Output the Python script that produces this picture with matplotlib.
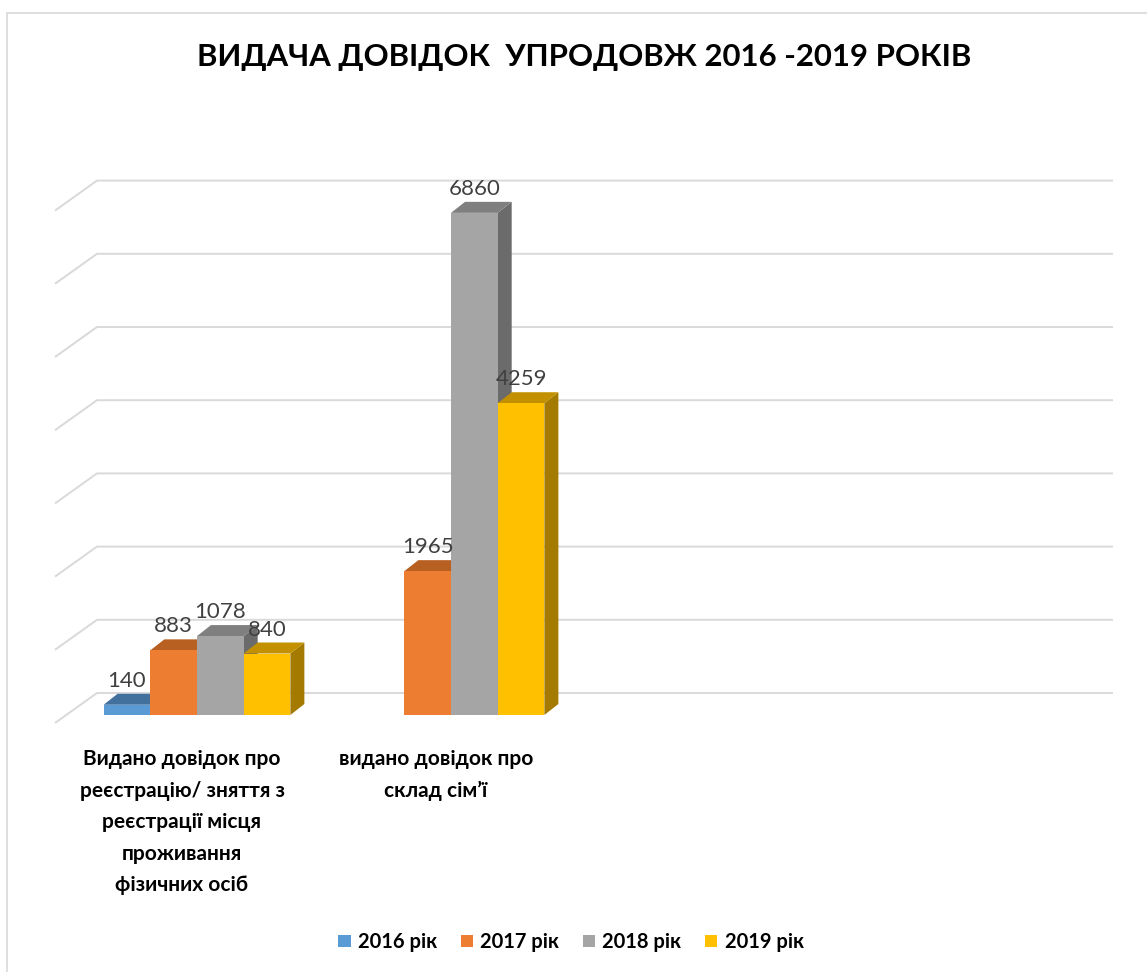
import matplotlib
matplotlib.use("Agg")
import matplotlib.pyplot as plt
from matplotlib.patches import Polygon, Rectangle

plt.rcParams['font.family'] = ['Lato', 'DejaVu Sans']

# ---- дані ----
categories = [
    "Видано довідок про\nреєстрацію/ зняття з\nреєстрації місця\nпроживання\nфізичних осіб",
    "видано довідок про\nсклад сім’ї",
    "",
    "",
]
series = ["2016 рік", "2017 рік", "2018 рік", "2019 рік"]
v2016 = [140, None, None, None]
v2017 = [883, 1965, None, None]
v2018 = [1078, 6860, None, None]
v2019 = [840, 4259, None, None]
values = [v2016, v2017, v2018, v2019]

front_colors = ['#5B9BD5', '#ED7D31', '#A5A5A5', '#FFC000']
top_colors = ['#41719C', '#B85F22', '#7F7F7F', '#C29000']
side_colors = ['#3A6590', '#A4531C', '#6B6B6B', '#A47A00']

title = "ВИДАЧА ДОВІДОК  УПРОДОВЖ 2016 -2019 РОКІВ"

# ---- геометрія (пікселі) ----
W, H = 1147, 972
AX_L, AX_W = 55, 1016
AX_B, AX_H = 723, 512.4
YMAX = 7000
PX = 4 / AX_W          # одиниць x на піксель
PY = YMAX / AX_H       # одиниць y на піксель

fig = plt.figure(figsize=(W / 100, H / 100), dpi=100, facecolor='white')
ax = fig.add_axes([AX_L / W, (H - AX_B) / H, AX_W / W, AX_H / H])
ax.set_xlim(-0.5, 3.5)
ax.set_ylim(0, YMAX)
for s in ax.spines.values():
    s.set_visible(False)
ax.set_yticks([])

# рамка діаграми
fig.patches.append(Rectangle((7 / W, -0.1), 1.2, 1 - 13 / H + 0.1, transform=fig.transFigure,
                             fill=False, edgecolor='#D9D9D9', linewidth=1.2))

# сітка на задній стінці
back_dx, back_dy = 42 * PX, 30 * PY
for g in range(0, YMAX + 1, 1000):
    ax.plot([-0.5, -0.5 + back_dx, 3.5 + back_dx], [g, g + back_dy, g + back_dy],
            color='#D9D9D9', lw=1.4, clip_on=False, zorder=1, solid_capstyle='butt')

# стовпці (об'ємні)
bar_w = 0.1838
plane_dx, plane_dy = 15 * PX, 8 * PY
depth_dx, depth_dy = 14 * PX, 11 * PY
for i in range(len(categories)):
    for j, ser in enumerate(values):
        v = ser[i]
        if v is None:
            continue
        x0 = i - 2 * bar_w + j * bar_w + plane_dx
        x1 = x0 + bar_w
        y0 = plane_dy
        y1 = plane_dy + v
        z = 3 + j * 0.1
        ax.add_patch(Polygon([(x1, y0), (x1 + depth_dx, y0 + depth_dy), (x1 + depth_dx, y1 + depth_dy), (x1, y1)],
                             closed=True, facecolor=side_colors[j], edgecolor='none', zorder=z, clip_on=False))
        ax.add_patch(Polygon([(x0, y1), (x0 + depth_dx, y1 + depth_dy), (x1 + depth_dx, y1 + depth_dy), (x1, y1)],
                             closed=True, facecolor=top_colors[j], edgecolor='none', zorder=z + 0.01, clip_on=False))
        ax.bar(x0, v, width=bar_w, bottom=y0, align='edge', color=front_colors[j], zorder=z + 0.02, clip_on=False)
        ax.text(x0 + bar_w / 2, y1 + 24 * PY, f"{v}", ha='center', va='center', fontsize=16,
                color='#404040', zorder=10)

ax.set_xticks(range(len(categories)))
ax.set_xticklabels(categories, fontsize=15, fontweight='bold', color='black', linespacing=1.72)
ax.tick_params(axis='x', length=0, pad=19)

fig.text(584 / W, 1 - 57 / H, title, ha='center', va='center', fontsize=22.4, fontweight='bold', color='black')

handles = [Rectangle((0, 0), 1, 1, facecolor=c) for c in front_colors]
fig.legend(handles, series, loc='center', bbox_to_anchor=(571 / W, 1 - 942 / H), ncol=4, frameon=False,
           prop={'size': 14.5, 'weight': 'bold'}, handlelength=0.6, handleheight=0.6, handletextpad=0.35,
           columnspacing=1.2)

fig.savefig("out.png", dpi=100, facecolor='white')
